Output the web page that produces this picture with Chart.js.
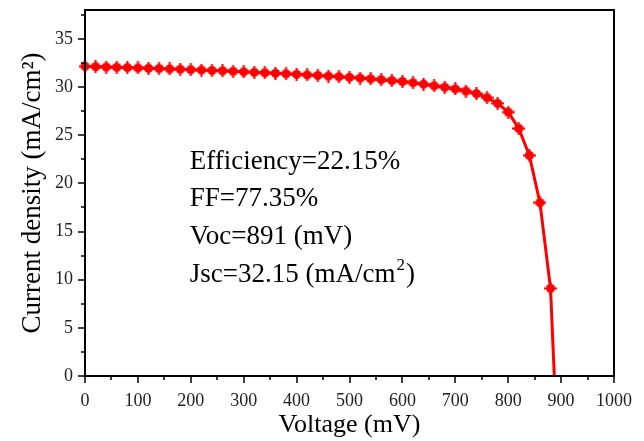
<!DOCTYPE html>
<html>
<head>
<meta charset="utf-8">
<script src="https://cdn.jsdelivr.net/npm/chart.js@4"></script>
<style>
  html, body { margin: 0; padding: 0; background: #fff; }
  #wrap { width: 644px; height: 441px; }
</style>
</head>
<body>
<div id="wrap"><canvas id="jvChart" width="644" height="441"></canvas></div>
<script>
// J-V curve (mV, mA/cm2)
const voltage = [0, 20, 40, 60, 80, 100, 120, 140, 160, 180, 200, 220, 240, 260, 280, 300,
  320, 340, 360, 380, 400, 420, 440, 460, 480, 500, 520, 540, 560, 580, 600, 620, 640,
  660, 680, 700, 720, 740, 760, 780, 800, 820, 840, 860, 880, 900];
const currentDensity = [32.15, 32.12, 32.08, 32.05, 32.02, 31.98, 31.95, 31.92, 31.88, 31.85,
  31.8, 31.77, 31.72, 31.68, 31.63, 31.58, 31.53, 31.48, 31.43, 31.38, 31.32, 31.26, 31.2,
  31.14, 31.07, 31.0, 30.93, 30.85, 30.77, 30.68, 30.58, 30.45, 30.3, 30.13, 29.98, 29.8,
  29.58, 29.32, 28.9, 28.3, 27.4, 25.7, 22.9, 18.0, 9.1, -16.4];

const xTicks = [0, 100, 200, 300, 400, 500, 600, 700, 800, 900, 1000];
const xMinorTicks = [50, 150, 250, 350, 450, 550, 650, 750, 850, 950];
const yTicks = [0, 5, 10, 15, 20, 25, 30, 35];
const yMinorTicks = [2.5, 7.5, 12.5, 17.5, 22.5, 27.5, 32.5, 37.5];

const infoLines = ["Efficiency=22.15%", "FF=77.35%", "Voc=891 (mV)", "Jsc=32.15 (mA/cm"];
const infoX = 198;                 // mV
const infoY = [21.5, 17.6, 13.7, 9.8]; // mA/cm2, baselines

const serif = '"Liberation Serif", "Times New Roman", serif';

// marker: filled circle with a small plus through it
function makeMarker() {
  const c = document.createElement("canvas");
  c.width = 13; c.height = 13;
  const g = c.getContext("2d");
  g.fillStyle = "#ff0000";
  g.beginPath(); g.arc(6.5, 6.5, 4.6, 0, Math.PI * 2); g.fill();
  g.fillRect(0, 5.5, 13, 2);
  g.fillRect(5.5, 0, 2, 13);
  return c;
}

function fixBox(s, key, size) {
  s[key] = size;
  s.paddingLeft = 0; s.paddingRight = 0; s.paddingTop = 0; s.paddingBottom = 0;
}

const framePlugin = {
  id: "frame",
  afterDraw(chart) {
    const { ctx, chartArea: a, scales: { x, y } } = chart;
    ctx.save();
    ctx.strokeStyle = "#000";
    ctx.lineWidth = 2;
    ctx.strokeRect(a.left, a.top, a.right - a.left, a.bottom - a.top);

    ctx.lineWidth = 1.5;
    ctx.beginPath();
    xTicks.forEach((v) => { const p = Math.round(x.getPixelForValue(v)); ctx.moveTo(p, a.bottom); ctx.lineTo(p, a.bottom + 7); });
    xMinorTicks.forEach((v) => { const p = Math.round(x.getPixelForValue(v)); ctx.moveTo(p, a.bottom); ctx.lineTo(p, a.bottom + 4); });
    yTicks.forEach((v) => { const p = Math.round(y.getPixelForValue(v)); ctx.moveTo(a.left, p); ctx.lineTo(a.left - 7, p); });
    yMinorTicks.forEach((v) => { const p = Math.round(y.getPixelForValue(v)); ctx.moveTo(a.left, p); ctx.lineTo(a.left - 4, p); });
    ctx.stroke();

    // text box inside the plot
    ctx.fillStyle = "#000";
    ctx.textBaseline = "alphabetic";
    ctx.font = "27px " + serif;
    const tx = x.getPixelForValue(infoX);
    infoLines.forEach((t, i) => {
      const ty = y.getPixelForValue(infoY[i]);
      ctx.fillText(t, tx, ty);
      if (i === infoLines.length - 1) {
        let w = ctx.measureText(t).width;
        ctx.font = "17px " + serif;
        ctx.fillText("2", tx + w + 1, ty - 12);
        w += ctx.measureText("2").width + 2;
        ctx.font = "27px " + serif;
        ctx.fillText(")", tx + w, ty);
      }
    });
    ctx.restore();
  }
};

new Chart(document.getElementById("jvChart").getContext("2d"), {
  type: "line",
  data: {
    datasets: [{
      label: "J-V",
      data: voltage.map((v, i) => ({ x: v, y: currentDensity[i] })),
      borderColor: "#ff0000",
      backgroundColor: "#ff0000",
      borderWidth: 3,
      pointStyle: makeMarker(),
      pointRadius: 5,
      tension: 0,
      clip: { left: 6, top: 6, right: 6, bottom: 0 },
    }],
  },
  plugins: [framePlugin],
  options: {
    responsive: false,
    animation: false,
    layout: { padding: { top: 10, right: 30, left: 0, bottom: 0 } },
    plugins: { legend: { display: false }, tooltip: { enabled: false } },
    scales: {
      x: {
        type: "linear",
        min: 0,
        max: 1000,
        afterBuildTicks: (s) => { s.ticks = xTicks.map((v) => ({ value: v })); },
        afterFit: (s) => fixBox(s, "height", 65),
        grid: { display: false, drawTicks: false },
        border: { display: false },
        ticks: { font: { family: serif, size: 18 }, color: "#222", padding: 14, maxRotation: 0, autoSkip: false, callback: (v) => String(v) },
        title: { display: true, text: "Voltage (mV)", font: { family: serif, size: 26 }, color: "#000", padding: 0 },
      },
      y: {
        min: 0,
        max: 38,
        afterBuildTicks: (s) => { s.ticks = yTicks.map((v) => ({ value: v })); },
        afterFit: (s) => fixBox(s, "width", 85),
        grid: { display: false, drawTicks: false },
        border: { display: false },
        ticks: { font: { family: serif, size: 18 }, color: "#222", padding: 12, callback: (v) => String(v) },
        title: { display: true, text: "Current density (mA/cm²)", font: { family: serif, size: 27 }, color: "#000", padding: { top: 17, bottom: 0 } },
      },
    },
  },
});
</script>
</body>
</html>
